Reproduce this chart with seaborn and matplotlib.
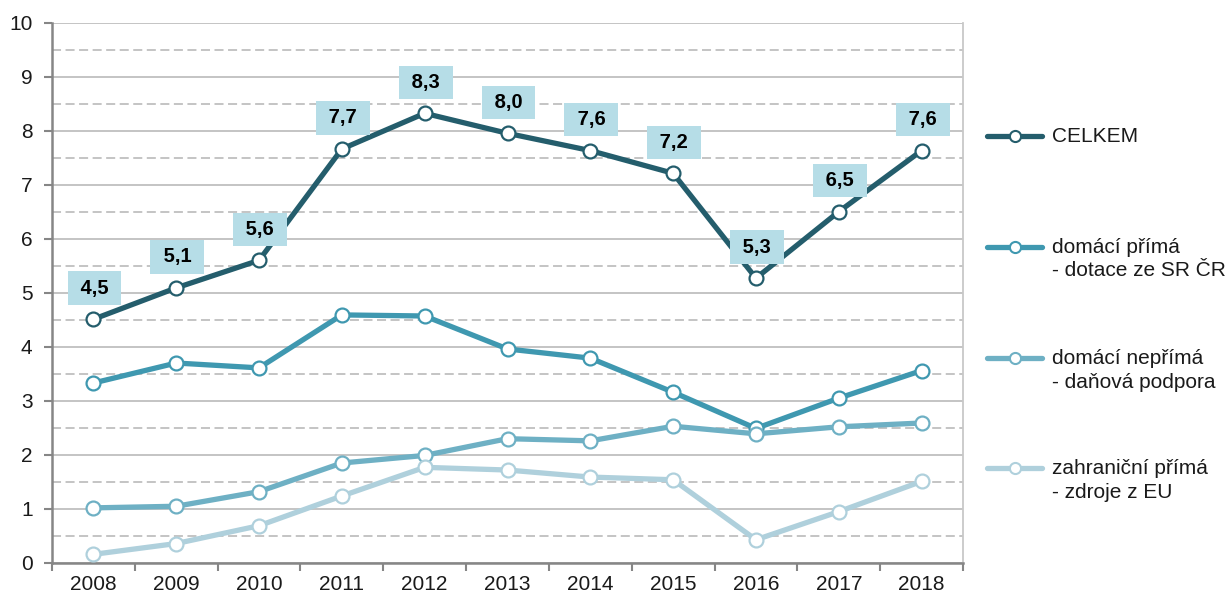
import numpy as np
import pandas as pd
import matplotlib
matplotlib.use("Agg")
import matplotlib.pyplot as plt
from matplotlib.lines import Line2D
from matplotlib.ticker import MultipleLocator
import seaborn as sns

# data
years = [2008, 2009, 2010, 2011, 2012, 2013, 2014, 2015, 2016, 2017, 2018]
celkem = [4.51, 5.09, 5.60, 7.66, 8.32, 7.95, 7.63, 7.21, 5.27, 6.50, 7.63]
domaci_prima = [3.33, 3.70, 3.61, 4.59, 4.57, 3.96, 3.79, 3.16, 2.49, 3.05, 3.56]
domaci_neprima = [1.02, 1.05, 1.32, 1.85, 1.99, 2.30, 2.26, 2.53, 2.39, 2.52, 2.59]
zahranicni = [0.16, 0.36, 0.69, 1.24, 1.77, 1.72, 1.59, 1.54, 0.43, 0.95, 1.51]

series_names = ["CELKEM", "domácí přímá", "domácí nepřímá", "zahraniční přímá"]
legend_labels = ["CELKEM", "domácí přímá\n- dotace ze SR ČR",
                 "domácí nepřímá\n- daňová podpora", "zahraniční přímá\n- zdroje z EU"]
colors = ["#245d6c", "#3f98b0", "#6eb0c4", "#afd0dc"]

sns.set_theme(style="white")
plt.rcParams["font.family"] = ["Liberation Sans", "DejaVu Sans"]

df = pd.DataFrame({
    "rok": years * 4,
    "hodnota": celkem + domaci_prima + domaci_neprima + zahranicni,
    "rada": sum([[n] * len(years) for n in series_names], []),
})

fig = plt.figure(figsize=(12.3, 5.98), dpi=100)
ax = fig.add_axes([52 / 1230, 35 / 598, 911 / 1230, 540.5 / 598])

sns.lineplot(data=df, x="rok", y="hodnota", hue="rada", hue_order=series_names,
             palette=colors, ax=ax, legend=False, linewidth=3.8,
             marker="o", markersize=10, markerfacecolor="white",
             markeredgewidth=1.6, zorder=3)
# marker edges in line colour
for line, c in zip(ax.get_lines(), colors):
    line.set_markeredgecolor(c)

ax.set_xlim(2007.5, 2018.5)
ax.set_ylim(0, 10)
ax.set_xlabel("")
ax.set_ylabel("")

ax.set_xticks(years)
ax.set_xticklabels([str(y) for y in years], fontsize=15, color="#1a1a1a")
ax.set_xticks(np.arange(2007.5, 2019, 1.0), minor=True)
ax.tick_params(axis="x", which="major", length=0, pad=9)
ax.tick_params(axis="x", which="minor", length=6, width=1.5, color="#868686", bottom=True)

ax.set_yticks(range(0, 11))
ax.yaxis.set_minor_locator(MultipleLocator(0.5))
ax.tick_params(axis="y", which="major", length=6, width=1.5, color="#868686",
               labelsize=15, labelcolor="#1a1a1a", pad=8, left=True)
ax.tick_params(axis="y", which="minor", length=0)

ax.grid(axis="y", which="major", color="#bfbfbf", linewidth=1.3, linestyle="-")
ax.grid(axis="y", which="minor", color="#bfbfbf", linewidth=1.3, linestyle=(0, (5, 2.5)))
ax.set_axisbelow(True)

for side in ["left", "bottom"]:
    ax.spines[side].set_color("#868686")
    ax.spines[side].set_linewidth(1.8)
ax.spines["right"].set_color("#c8c8c8")
ax.spines["right"].set_linewidth(1.3)
ax.spines["top"].set_visible(False)

# value labels for CELKEM
for x, v in zip(years, celkem):
    ax.annotate(" " + f"{v:.1f}".replace(".", ",") + " ", (x, v), xytext=(1, 31),
                textcoords="offset pixels", ha="center", va="center",
                fontsize=14.5, fontweight="bold", color="black", zorder=5,
                bbox=dict(boxstyle="square,pad=0.36", fc="#b6dde7", ec="none"))

# legend on the right (handle aligned to first line of each label)
handle_y = [136, 247, 358, 468]
for lab, c, hy in zip(legend_labels, colors, handle_y):
    yf = 1 - hy / 598
    fig.add_artist(Line2D([987 / 1230, 1042 / 1230], [yf, yf], color=c, linewidth=3.8,
                          solid_capstyle="round", transform=fig.transFigure))
    fig.add_artist(Line2D([1014.5 / 1230], [yf], marker="o", markersize=8,
                          markerfacecolor="white", markeredgecolor=c, markeredgewidth=1.5,
                          transform=fig.transFigure))
    fig.text(1052 / 1230, 1 - (hy - 9) / 598, lab, ha="left", va="top",
             fontsize=15, color="#1a1a1a", linespacing=1.3)

fig.savefig("out.png", dpi=100, facecolor="white")
